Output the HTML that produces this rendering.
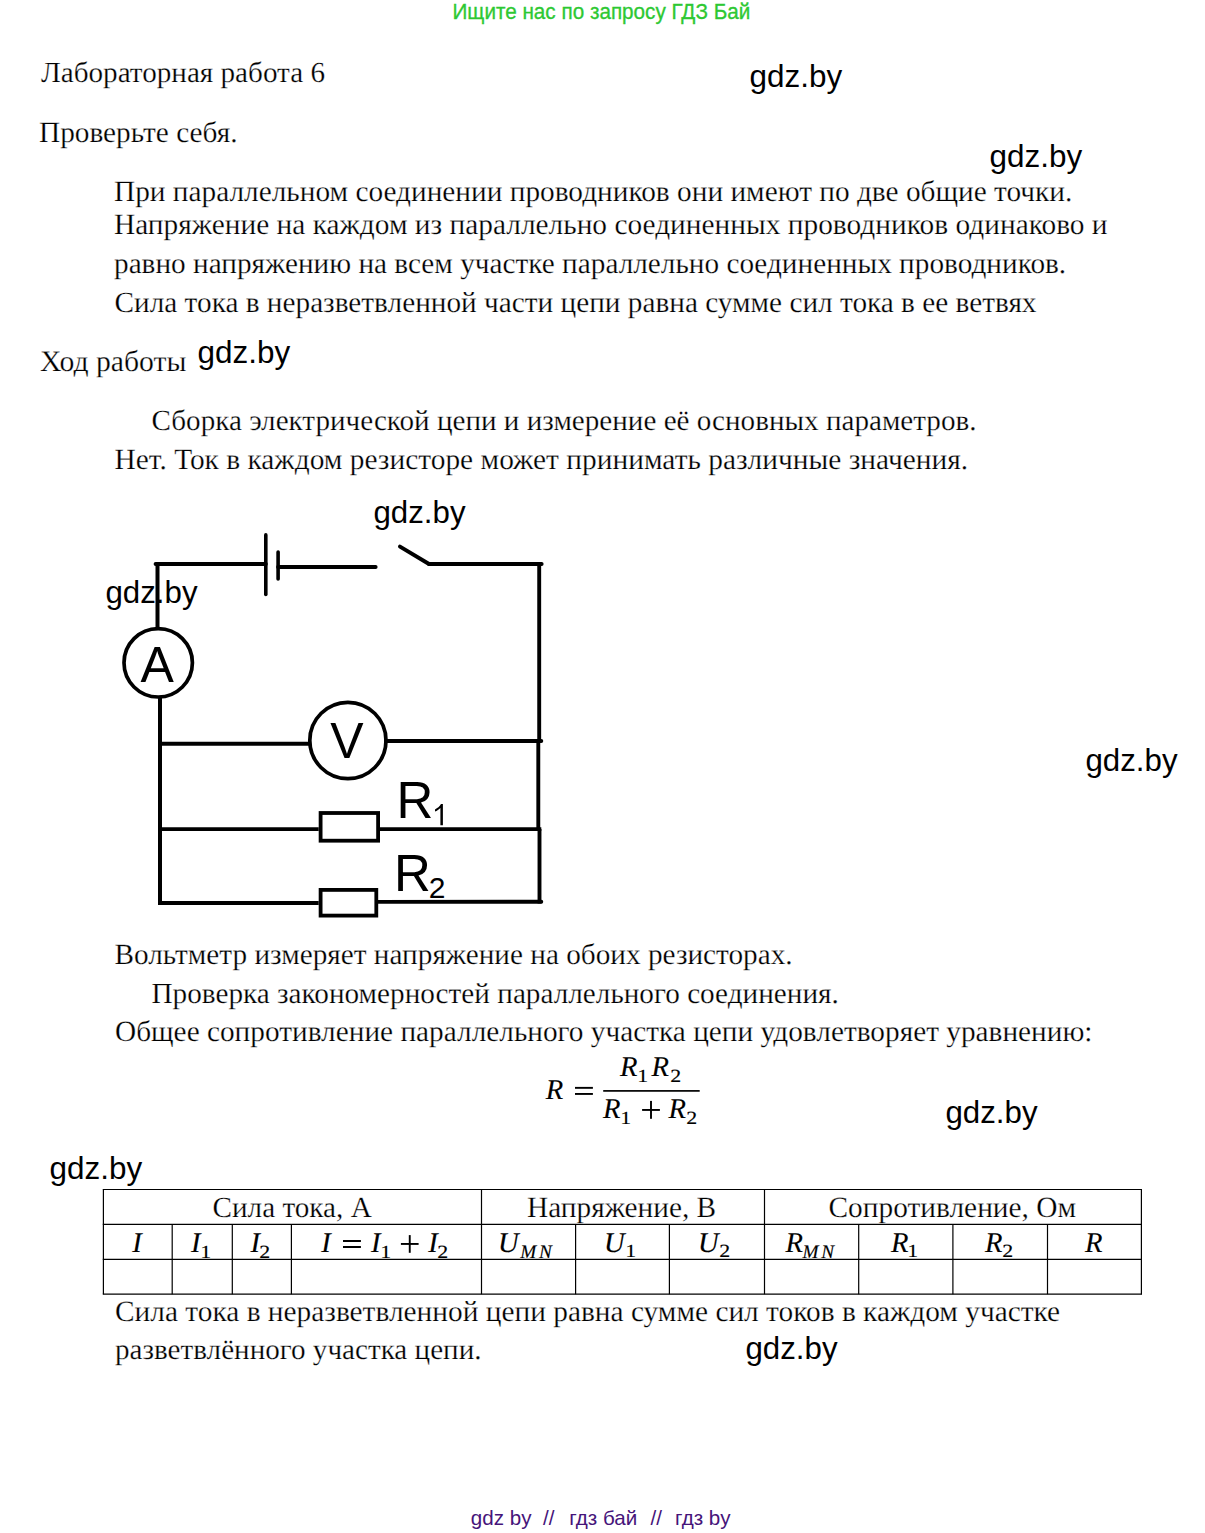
<!DOCTYPE html>
<html lang="ru"><head><meta charset="utf-8"><title>Лабораторная работа 6</title>
<style>
html,body{margin:0;padding:0;background:#fff;}
body{width:1205px;height:1533px;position:relative;overflow:hidden;color:#000;}
.t{position:absolute;white-space:pre;line-height:1;}
.r{font-family:"Liberation Serif",serif;text-rendering:geometricPrecision;-webkit-text-stroke:0.25px #fff;}
.s{font-family:"Liberation Sans",sans-serif;}
svg{position:absolute;left:0;top:0;}
</style></head><body>
<svg width="1205" height="1533" viewBox="0 0 1205 1533">
<line x1="157.5" y1="628" x2="157.5" y2="564.1" stroke="#000" stroke-width="4" stroke-linecap="butt"/>
<line x1="155.6" y1="564.1" x2="265.8" y2="564.1" stroke="#000" stroke-width="4" stroke-linecap="round"/>
<line x1="265.8" y1="534.9" x2="265.8" y2="594.4" stroke="#000" stroke-width="3.6" stroke-linecap="round"/>
<line x1="278.1" y1="552.1" x2="278.1" y2="579.0" stroke="#000" stroke-width="3.6" stroke-linecap="round"/>
<line x1="278.1" y1="567.1" x2="375.6" y2="567.1" stroke="#000" stroke-width="4" stroke-linecap="round"/>
<line x1="400.0" y1="546.6" x2="429.0" y2="564.0" stroke="#000" stroke-width="4" stroke-linecap="round"/>
<path d="M429,564 L541.6,564" stroke="#000" fill="none" stroke-width="4" stroke-linecap="round"/>
<line x1="539.2" y1="564" x2="539.2" y2="741" stroke="#000" stroke-width="3.9" stroke-linecap="butt"/>
<line x1="538.3" y1="741" x2="538.3" y2="829" stroke="#000" stroke-width="3.9" stroke-linecap="butt"/>
<line x1="539.5" y1="829" x2="539.5" y2="903.5" stroke="#000" stroke-width="3.9" stroke-linecap="butt"/>
<circle cx="158.2" cy="662.8" r="34.2" stroke="#000" fill="none" stroke-width="3.7"/>
<path d="M160,697 L160,903 L318.7,903" stroke="#000" fill="none" stroke-width="4" stroke-linejoin="miter"/>
<line x1="160" y1="743.8" x2="309.8" y2="743.8" stroke="#000" stroke-width="3.9" stroke-linecap="butt"/>
<circle cx="347.9" cy="740.5" r="38.1" stroke="#000" fill="none" stroke-width="3.7"/>
<line x1="385.9" y1="741" x2="541.3" y2="741" stroke="#000" stroke-width="3.9" stroke-linecap="round"/>
<line x1="160" y1="829.1" x2="318.7" y2="829.1" stroke="#000" stroke-width="3.9" stroke-linecap="butt"/>
<rect x="320.6" y="813" width="57.5" height="27.7" stroke="#000" fill="none" stroke-width="3.8"/>
<line x1="380" y1="829.1" x2="541.3" y2="829.1" stroke="#000" stroke-width="3.9" stroke-linecap="butt"/>
<rect x="320.6" y="889.9" width="55.7" height="25.7" stroke="#000" fill="none" stroke-width="3.8"/>
<line x1="378.2" y1="901.9" x2="541.3" y2="901.7" stroke="#000" stroke-width="3.9" stroke-linecap="round"/>
<path d="M440.4,825.2 L442.9,825.2 L442.9,804.1 L441,804.1 C439.6,806.5 437.5,808.3 435,809.4 L435,811.6 C437,810.8 439,809.5 440.4,808 Z" fill="#000"/>
<rect x="603.2" y="1090.05" width="96.5" height="1.7" fill="#000"/>
<rect x="575" y="1086.9" width="17.9" height="1.9" fill="#000"/>
<rect x="575" y="1093.0" width="17.9" height="1.9" fill="#000"/>
<rect x="642.1" y="1109.0" width="17.8" height="1.9" fill="#000"/>
<rect x="650.05" y="1100.9" width="1.9" height="17.9" fill="#000"/>
<rect x="343.0" y="1240.0" width="17.9" height="2.0" fill="#000"/>
<rect x="343.0" y="1246.0" width="17.9" height="2.0" fill="#000"/>
<rect x="400.9" y="1243.0" width="17.7" height="1.9" fill="#000"/>
<rect x="408.8" y="1235.1" width="1.9" height="17.7" fill="#000"/>
<line x1="102.80000000000001" y1="1189.5" x2="1142.0" y2="1189.5" stroke="#000" stroke-width="1.2"/>
<line x1="102.80000000000001" y1="1224.4" x2="1142.0" y2="1224.4" stroke="#000" stroke-width="1.2"/>
<line x1="102.80000000000001" y1="1259.3" x2="1142.0" y2="1259.3" stroke="#000" stroke-width="1.2"/>
<line x1="102.80000000000001" y1="1294.2" x2="1142.0" y2="1294.2" stroke="#000" stroke-width="1.2"/>
<line x1="103.4" y1="1189.5" x2="103.4" y2="1294.2" stroke="#000" stroke-width="1.2"/>
<line x1="481.5" y1="1189.5" x2="481.5" y2="1294.2" stroke="#000" stroke-width="1.2"/>
<line x1="764.5" y1="1189.5" x2="764.5" y2="1294.2" stroke="#000" stroke-width="1.2"/>
<line x1="1141.4" y1="1189.5" x2="1141.4" y2="1294.2" stroke="#000" stroke-width="1.2"/>
<line x1="172.2" y1="1224.4" x2="172.2" y2="1294.2" stroke="#000" stroke-width="1.2"/>
<line x1="232.3" y1="1224.4" x2="232.3" y2="1294.2" stroke="#000" stroke-width="1.2"/>
<line x1="291.4" y1="1224.4" x2="291.4" y2="1294.2" stroke="#000" stroke-width="1.2"/>
<line x1="575.6" y1="1224.4" x2="575.6" y2="1294.2" stroke="#000" stroke-width="1.2"/>
<line x1="669.4" y1="1224.4" x2="669.4" y2="1294.2" stroke="#000" stroke-width="1.2"/>
<line x1="858.7" y1="1224.4" x2="858.7" y2="1294.2" stroke="#000" stroke-width="1.2"/>
<line x1="952.9" y1="1224.4" x2="952.9" y2="1294.2" stroke="#000" stroke-width="1.2"/>
<line x1="1047.5" y1="1224.4" x2="1047.5" y2="1294.2" stroke="#000" stroke-width="1.2"/>
</svg>
<div class="t s" style="left:452.50px;top:1.95px;font-size:20.70px;color:#2dc832;-webkit-text-stroke:0.3px #2dc832;transform:scaleY(1.06);transform-origin:0 85%">Ищите нас по запросу ГДЗ Бай</div>
<div class="t r" style="left:41.00px;top:59.01px;font-size:29.15px;">Лабораторная работа 6</div>
<div class="t r" style="left:39.00px;top:118.90px;font-size:29.30px;">Проверьте себя.</div>
<div class="t r" style="left:114.00px;top:178.01px;font-size:29.32px;">При параллельном соединении проводников они имеют по две общие точки.</div>
<div class="t r" style="left:114.00px;top:211.31px;font-size:29.38px;">Напряжение на каждом из параллельно соединенных проводников одинаково и</div>
<div class="t r" style="left:114.00px;top:249.90px;font-size:29.27px;">равно напряжению на всем участке параллельно соединенных проводников.</div>
<div class="t r" style="left:114.50px;top:288.81px;font-size:29.28px;">Сила тока в неразветвленной части цепи равна сумме сил тока в ее ветвях</div>
<div class="t r" style="left:40.00px;top:347.61px;font-size:29.67px;">Ход работы</div>
<div class="t r" style="left:151.50px;top:407.01px;font-size:29.14px;">Сборка электрической цепи и измерение её основных параметров.</div>
<div class="t r" style="left:114.50px;top:445.72px;font-size:29.42px;">Нет. Ток в каждом резисторе может принимать различные значения.</div>
<div class="t r" style="left:114.50px;top:941.31px;font-size:29.26px;">Вольтметр измеряет напряжение на обоих резисторах.</div>
<div class="t r" style="left:151.50px;top:980.01px;font-size:29.23px;">Проверка закономерностей параллельного соединения.</div>
<div class="t r" style="left:115.00px;top:1018.01px;font-size:29.30px;">Общее сопротивление параллельного участка цепи удовлетворяет уравнению:</div>
<div class="t r" style="left:115.00px;top:1297.61px;font-size:29.37px;">Сила тока в неразветвленной цепи равна сумме сил токов в каждом участке</div>
<div class="t r" style="left:115.00px;top:1335.61px;font-size:29.13px;">разветвлённого участка цепи.</div>
<div class="t r" style="left:212.50px;top:1194.01px;font-size:29.19px;">Сила тока, А</div>
<div class="t r" style="left:527.00px;top:1194.01px;font-size:29.33px;">Напряжение, В</div>
<div class="t r" style="left:828.50px;top:1193.90px;font-size:29.37px;">Сопротивление, Ом</div>
<div class="t s" style="left:749.50px;top:60.91px;font-size:31.45px;">gdz.by</div>
<div class="t s" style="left:989.50px;top:140.91px;font-size:31.45px;">gdz.by</div>
<div class="t s" style="left:197.50px;top:336.91px;font-size:31.45px;">gdz.by</div>
<div class="t s" style="left:373.50px;top:496.71px;font-size:31.24px;">gdz.by</div>
<div class="t s" style="left:105.50px;top:576.71px;font-size:31.24px;">gdz.by</div>
<div class="t s" style="left:1085.50px;top:744.71px;font-size:31.24px;">gdz.by</div>
<div class="t s" style="left:945.50px;top:1096.71px;font-size:31.24px;">gdz.by</div>
<div class="t s" style="left:49.50px;top:1152.91px;font-size:31.45px;">gdz.by</div>
<div class="t s" style="left:745.50px;top:1332.91px;font-size:31.24px;">gdz.by</div>
<div class="t s" style="left:470.80px;top:1507.71px;font-size:20.60px;color:#46147a">gdz by</div>
<div class="t s" style="left:543.10px;top:1507.71px;font-size:20.60px;color:#46147a">//</div>
<div class="t s" style="left:569.20px;top:1507.71px;font-size:20.60px;color:#46147a">гдз бай</div>
<div class="t s" style="left:650.60px;top:1507.71px;font-size:20.60px;color:#46147a">//</div>
<div class="t s" style="left:675.10px;top:1507.71px;font-size:20.60px;color:#46147a">гдз by</div>
<div class="t s" style="left:140.40px;top:639.81px;font-size:50.00px;">A</div>
<div class="t s" style="left:330.30px;top:716.00px;font-size:50.00px;">V</div>
<div class="t s" style="left:396.50px;top:774.91px;font-size:51.00px;">R</div>
<div class="t s" style="left:394.10px;top:848.41px;font-size:51.00px;">R</div>
<div class="t s" style="left:428.70px;top:873.00px;font-size:30.00px;">2</div>
<div class="t r" style="left:545.70px;top:1076.71px;font-size:28.60px;font-style:italic;-webkit-text-stroke:0.15px #000">R</div>
<div class="t r" style="left:620.10px;top:1053.71px;font-size:28.60px;font-style:italic;-webkit-text-stroke:0.15px #000">R</div>
<div class="t r" style="left:638.20px;top:1067.61px;font-size:18.60px;transform:scaleX(1.18);-webkit-text-stroke:0.15px #000">1</div>
<div class="t r" style="left:651.40px;top:1053.71px;font-size:28.60px;font-style:italic;-webkit-text-stroke:0.15px #000">R</div>
<div class="t r" style="left:670.80px;top:1067.61px;font-size:18.60px;transform:scaleX(1.18);-webkit-text-stroke:0.15px #000">2</div>
<div class="t r" style="left:603.10px;top:1095.80px;font-size:28.60px;font-style:italic;-webkit-text-stroke:0.15px #000">R</div>
<div class="t r" style="left:621.00px;top:1109.81px;font-size:18.60px;transform:scaleX(1.18);-webkit-text-stroke:0.15px #000">1</div>
<div class="t r" style="left:668.50px;top:1095.80px;font-size:28.60px;font-style:italic;-webkit-text-stroke:0.15px #000">R</div>
<div class="t r" style="left:686.90px;top:1109.81px;font-size:18.60px;transform:scaleX(1.18);-webkit-text-stroke:0.15px #000">2</div>
<div class="t r" style="left:132.20px;top:1229.51px;font-size:28.60px;font-style:italic;-webkit-text-stroke:0.15px #000">I</div>
<div class="t r" style="left:190.90px;top:1229.51px;font-size:28.60px;font-style:italic;-webkit-text-stroke:0.15px #000">I</div>
<div class="t r" style="left:201.00px;top:1243.50px;font-size:18.60px;transform:scaleX(1.18);-webkit-text-stroke:0.15px #000">1</div>
<div class="t r" style="left:250.40px;top:1229.51px;font-size:28.60px;font-style:italic;-webkit-text-stroke:0.15px #000">I</div>
<div class="t r" style="left:260.10px;top:1243.50px;font-size:18.60px;transform:scaleX(1.18);-webkit-text-stroke:0.15px #000">2</div>
<div class="t r" style="left:321.30px;top:1229.91px;font-size:28.60px;font-style:italic;-webkit-text-stroke:0.15px #000">I</div>
<div class="t r" style="left:370.90px;top:1229.91px;font-size:28.60px;font-style:italic;-webkit-text-stroke:0.15px #000">I</div>
<div class="t r" style="left:381.00px;top:1243.91px;font-size:18.60px;transform:scaleX(1.18);-webkit-text-stroke:0.15px #000">1</div>
<div class="t r" style="left:428.20px;top:1229.91px;font-size:28.60px;font-style:italic;-webkit-text-stroke:0.15px #000">I</div>
<div class="t r" style="left:437.80px;top:1243.91px;font-size:18.60px;transform:scaleX(1.18);-webkit-text-stroke:0.15px #000">2</div>
<div class="t r" style="left:498.10px;top:1229.51px;font-size:28.60px;font-style:italic;-webkit-text-stroke:0.15px #000">U</div>
<div class="t r" style="left:520.30px;top:1242.72px;font-size:19.20px;font-style:italic;-webkit-text-stroke:0.15px #000;letter-spacing:2.6px">MN</div>
<div class="t r" style="left:604.10px;top:1229.51px;font-size:28.60px;font-style:italic;-webkit-text-stroke:0.15px #000">U</div>
<div class="t r" style="left:626.00px;top:1243.31px;font-size:18.60px;transform:scaleX(1.18);-webkit-text-stroke:0.15px #000">1</div>
<div class="t r" style="left:698.00px;top:1229.51px;font-size:28.60px;font-style:italic;-webkit-text-stroke:0.15px #000">U</div>
<div class="t r" style="left:720.00px;top:1243.31px;font-size:18.60px;transform:scaleX(1.18);-webkit-text-stroke:0.15px #000">2</div>
<div class="t r" style="left:785.40px;top:1229.51px;font-size:28.60px;font-style:italic;-webkit-text-stroke:0.15px #000">R</div>
<div class="t r" style="left:802.60px;top:1242.72px;font-size:19.20px;font-style:italic;-webkit-text-stroke:0.15px #000;letter-spacing:2.6px">MN</div>
<div class="t r" style="left:891.00px;top:1229.51px;font-size:28.60px;font-style:italic;-webkit-text-stroke:0.15px #000">R</div>
<div class="t r" style="left:908.40px;top:1243.31px;font-size:18.60px;transform:scaleX(1.18);-webkit-text-stroke:0.15px #000">1</div>
<div class="t r" style="left:985.00px;top:1229.51px;font-size:28.60px;font-style:italic;-webkit-text-stroke:0.15px #000">R</div>
<div class="t r" style="left:1003.30px;top:1243.31px;font-size:18.60px;transform:scaleX(1.18);-webkit-text-stroke:0.15px #000">2</div>
<div class="t r" style="left:1084.90px;top:1229.51px;font-size:28.60px;font-style:italic;-webkit-text-stroke:0.15px #000">R</div>
</body></html>
